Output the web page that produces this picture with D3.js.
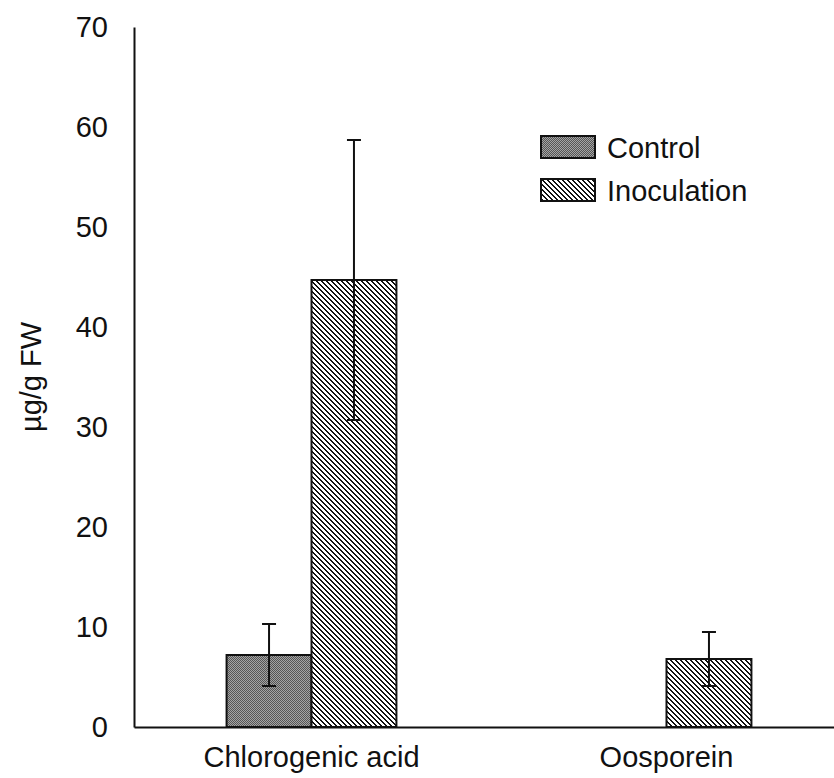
<!DOCTYPE html>
<html>
<head>
<meta charset="utf-8">
<script src="https://cdn.jsdelivr.net/npm/d3@7"></script>
<style>
  body { margin: 0; background: #fff; }
  text { font-family: Arial, "Liberation Sans", sans-serif; fill: #111; }
</style>
</head>
<body>
<div id="chart"></div>
<script>
// chart data
var categories = ["Chlorogenic acid", "Oosporein"];
var seriesNames = ["Control", "Inoculation"];
var controlValues = [7.2, null];
var controlErrors = [3.1, null];
var inoculationValues = [44.7, 6.8];
var inoculationErrors = [14.0, 2.7];
var yTicks = [0, 10, 20, 30, 40, 50, 60, 70];

var svgWidth = 834;
var svgHeight = 778;

var svg = d3.select("#chart")
  .append("svg")
  .attr("width", svgWidth)
  .attr("height", svgHeight);

// fill patterns
var defs = svg.append("defs");

var grey = defs.append("pattern")
  .attr("id", "grey")
  .attr("width", 2)
  .attr("height", 2)
  .attr("patternUnits", "userSpaceOnUse");
grey.append("rect").attr("width", 2).attr("height", 2).attr("fill", "#a4a4a4");
grey.append("rect").attr("x", 0).attr("y", 0).attr("width", 1).attr("height", 1).attr("fill", "#555");
grey.append("rect").attr("x", 1).attr("y", 1).attr("width", 1).attr("height", 1).attr("fill", "#555");

var hatch = defs.append("pattern")
  .attr("id", "hatch")
  .attr("width", 5)
  .attr("height", 5)
  .attr("patternUnits", "userSpaceOnUse");
hatch.append("rect").attr("width", 5).attr("height", 5).attr("fill", "#fff");
d3.range(5).forEach(function(i) {
  hatch.append("rect").attr("x", i).attr("y", i).attr("width", 2).attr("height", 1)
    .attr("fill", "#111").attr("shape-rendering", "crispEdges");
  if (i == 4) {
    hatch.append("rect").attr("x", -1).attr("y", i).attr("width", 2).attr("height", 1)
      .attr("fill", "#111").attr("shape-rendering", "crispEdges");
  }
});

var fills = { "Control": "url(#grey)", "Inoculation": "url(#hatch)" };

// scales
var x0 = d3.scaleBand()
  .domain(categories)
  .range([134, 844]);

var x1 = d3.scaleBand()
  .domain(seriesNames)
  .range([0, x0.bandwidth()])
  .paddingInner(0)
  .paddingOuter(1.09);

var y = d3.scaleLinear()
  .domain([0, 70])
  .range([727, 27]);

// build rows for bars
var rows = [];
categories.forEach(function(c, i) {
  rows.push({ cat: c, series: "Control", value: controlValues[i], err: controlErrors[i] });
  rows.push({ cat: c, series: "Inoculation", value: inoculationValues[i], err: inoculationErrors[i] });
});
rows = rows.filter(d => d.value != null);

// bars
svg.selectAll("rect.bar")
  .data(rows)
  .enter()
  .append("rect")
  .attr("class", "bar")
  .attr("x", d => x0(d.cat) + x1(d.series))
  .attr("y", d => y(d.value))
  .attr("width", x1.bandwidth())
  .attr("height", d => y(0) - y(d.value))
  .attr("fill", d => fills[d.series])
  .attr("stroke", "#111")
  .attr("stroke-width", 2);

// error bars
var capHalf = 7;
var errG = svg.selectAll("g.err")
  .data(rows)
  .enter()
  .append("g")
  .attr("class", "err")
  .attr("stroke", "#111")
  .attr("stroke-width", 2);

errG.append("line")
  .attr("x1", d => x0(d.cat) + x1(d.series) + x1.bandwidth() / 2)
  .attr("x2", d => x0(d.cat) + x1(d.series) + x1.bandwidth() / 2)
  .attr("y1", d => y(d.value + d.err))
  .attr("y2", d => y(d.value - d.err));

errG.append("line")
  .attr("x1", d => x0(d.cat) + x1(d.series) + x1.bandwidth() / 2 - capHalf)
  .attr("x2", d => x0(d.cat) + x1(d.series) + x1.bandwidth() / 2 + capHalf)
  .attr("y1", d => y(d.value + d.err))
  .attr("y2", d => y(d.value + d.err));

errG.append("line")
  .attr("x1", d => x0(d.cat) + x1(d.series) + x1.bandwidth() / 2 - capHalf)
  .attr("x2", d => x0(d.cat) + x1(d.series) + x1.bandwidth() / 2 + capHalf)
  .attr("y1", d => y(d.value - d.err))
  .attr("y2", d => y(d.value - d.err));

// axes
var leftAxis = d3.axisLeft(y)
  .tickValues(yTicks)
  .tickSize(0)
  .tickPadding(26);

var yAxis = svg.append("g")
  .attr("transform", "translate(134, 0)")
  .call(leftAxis);
yAxis.select(".domain").attr("stroke", "#111").attr("stroke-width", 2);
yAxis.selectAll("text").style("font-size", "29px").attr("fill", "#111");

var bottomAxis = d3.axisBottom(x0)
  .tickSize(0)
  .tickPadding(19);

var xAxis = svg.append("g")
  .attr("transform", "translate(0, 727)")
  .call(bottomAxis);
xAxis.select(".domain").attr("stroke", "#111").attr("stroke-width", 2);
xAxis.selectAll("text").style("font-size", "29px").attr("fill", "#111");

// y axis title
svg.append("text")
  .attr("transform", "translate(41, 377) rotate(-90)")
  .attr("text-anchor", "middle")
  .style("font-size", "29px")
  .text("µg/g FW");

// legend
var legend = svg.selectAll("g.legend")
  .data(seriesNames)
  .enter()
  .append("g")
  .attr("class", "legend")
  .attr("transform", (d, i) => `translate(541, ${136 + i * 43})`);

legend.append("rect")
  .attr("width", 54)
  .attr("height", 22)
  .attr("fill", d => fills[d])
  .attr("stroke", "#111")
  .attr("stroke-width", 2);

legend.append("text")
  .attr("x", 66)
  .attr("y", 22)
  .style("font-size", "29px")
  .text(d => d);
</script>
</body>
</html>
